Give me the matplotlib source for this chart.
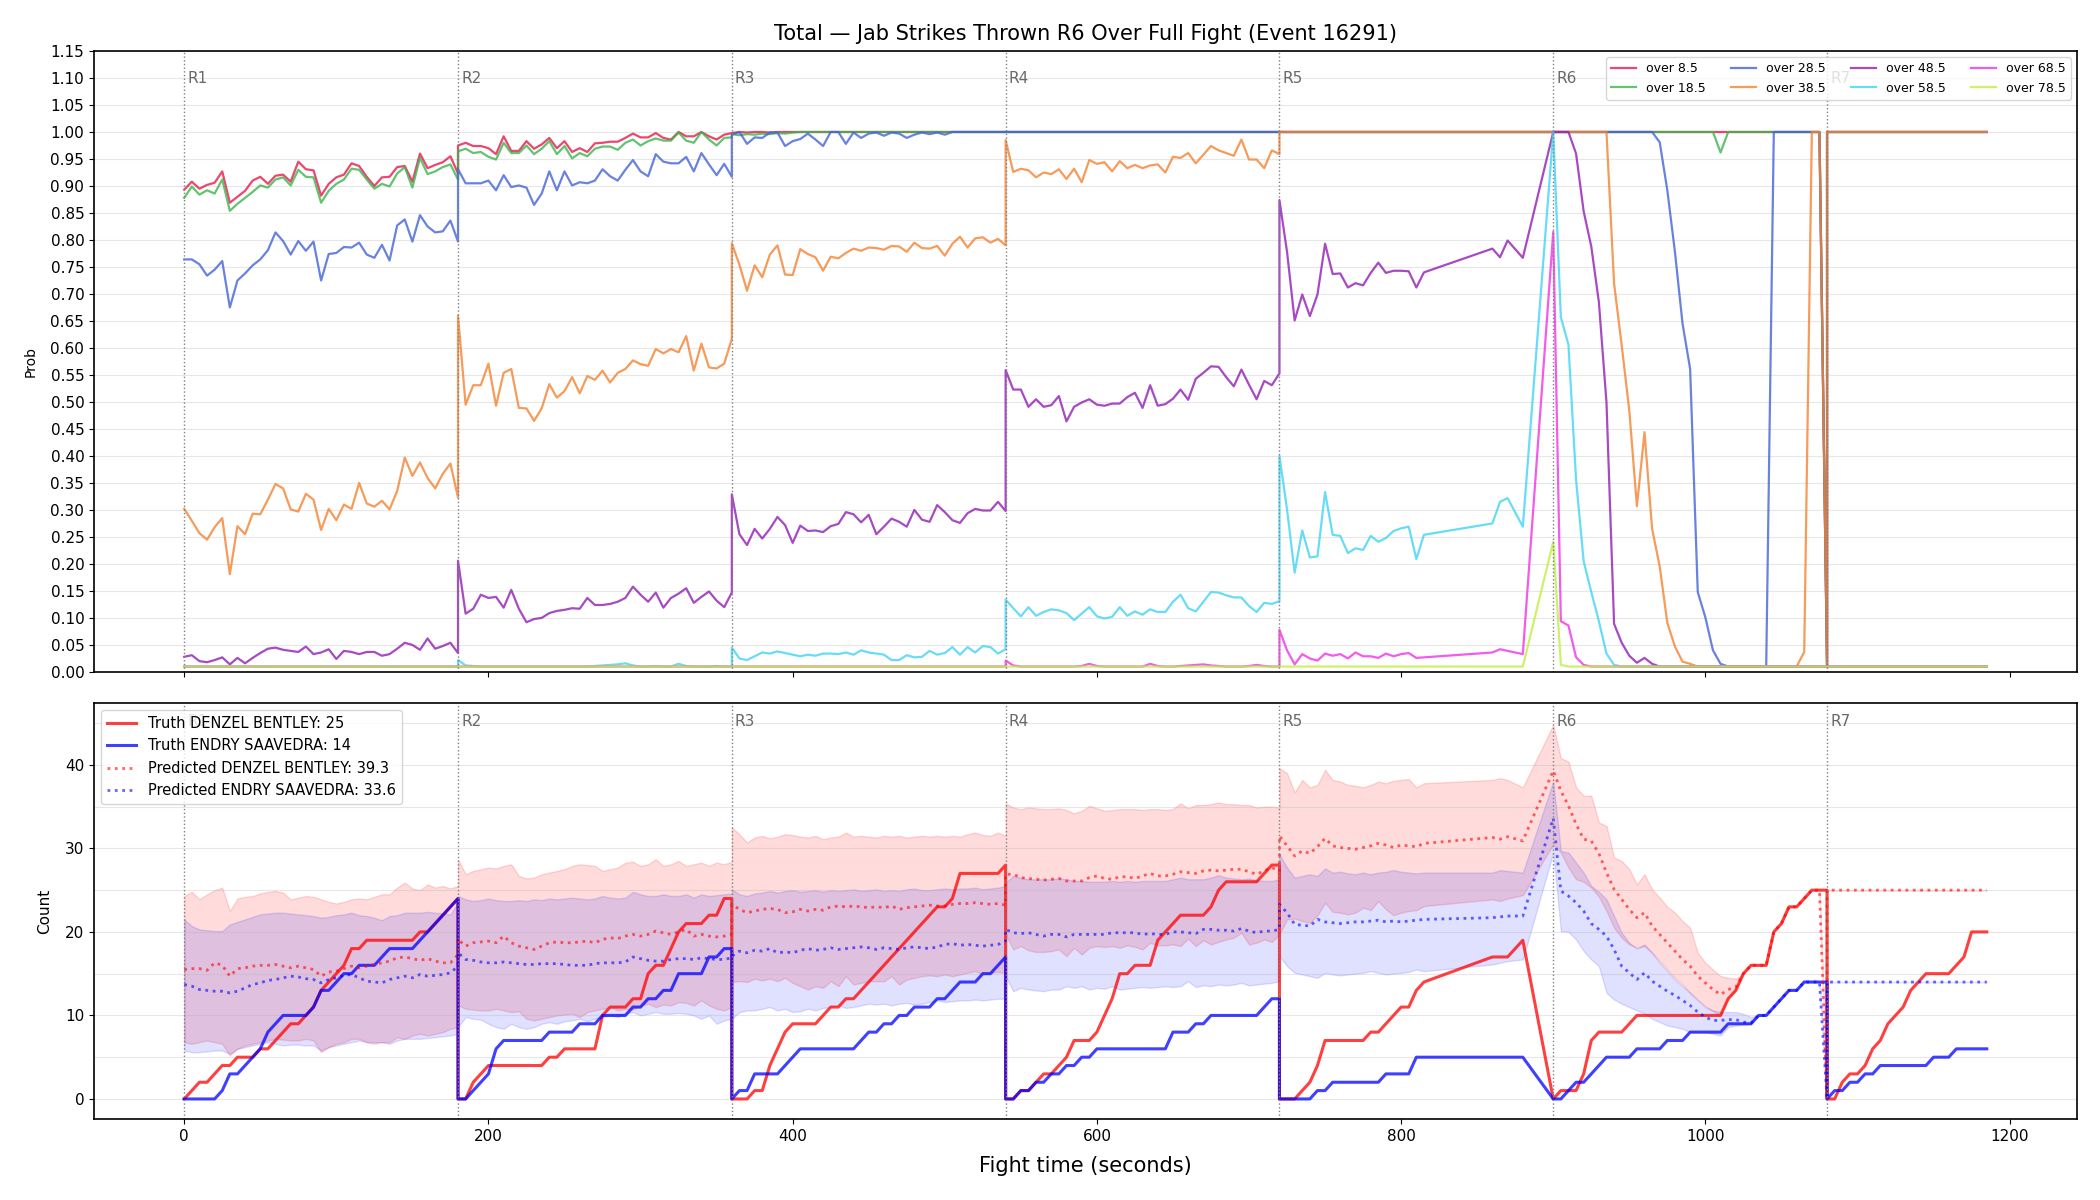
import matplotlib
matplotlib.use('Agg')
import matplotlib.pyplot as plt
from matplotlib.ticker import MultipleLocator, FormatStrFormatter

# ---- sample times (seconds), one list per round ----
t_r1 = [0, 5, 10, 15, 20, 25, 30, 35, 40, 45, 50, 55, 60, 65, 70, 75, 80, 85, 90, 95,
        100, 105, 110, 115, 120, 125, 130, 135, 140, 145, 150, 155, 160, 165, 170, 175, 180]
t_r2 = [180, 185, 190, 195, 200, 205, 210, 215, 220, 225, 230, 235, 240, 245, 250, 255, 260, 265, 270, 275,
        280, 285, 290, 295, 300, 305, 310, 315, 320, 325, 330, 335, 340, 345, 350, 355, 360]
t_r3 = [360, 365, 370, 375, 380, 385, 390, 395, 400, 405, 410, 415, 420, 425, 430, 435, 440, 445, 450, 455,
        460, 465, 470, 475, 480, 485, 490, 495, 500, 505, 510, 515, 520, 525, 530, 535, 540]
t_r4 = [540, 545, 550, 555, 560, 565, 570, 575, 580, 585, 590, 595, 600, 605, 610, 615, 620, 625, 630, 635,
        640, 645, 650, 655, 660, 665, 670, 675, 680, 685, 690, 695, 700, 705, 710, 715, 720]
t_r5 = [720, 725, 730, 735, 740, 745, 750, 755, 760, 765, 770, 775, 780, 785, 790, 795, 800, 805, 810, 815,
        860, 865, 870, 880]
t_r6 = [900, 905, 910, 915, 920, 925, 930, 935, 940, 945, 950, 955, 960, 965, 970, 975, 980, 985, 990, 995,
        1000, 1005, 1010, 1015, 1020, 1025, 1030, 1035, 1040, 1045, 1050, 1055, 1060, 1065, 1070, 1075, 1080]
t_r7 = [1080, 1085, 1090, 1095, 1100, 1105, 1110, 1115, 1120, 1125, 1130, 1135, 1140, 1145, 1150, 1155,
        1160, 1165, 1170, 1175, 1180, 1185]

round_starts = [0, 180, 360, 540, 720, 900, 1080]

# ---- top panel: probability of total over each line ----
over_8_5 = [
    [0.893, 0.908, 0.895, 0.902, 0.906, 0.927, 0.869, 0.880, 0.891, 0.910, 0.917, 0.904, 0.919, 0.921, 0.908,
     0.945, 0.931, 0.929, 0.882, 0.904, 0.916, 0.921, 0.942, 0.937, 0.917, 0.900, 0.916, 0.917, 0.935, 0.937,
     0.908, 0.960, 0.933, 0.939, 0.944, 0.955, 0.923],
    [0.975, 0.980, 0.974, 0.974, 0.970, 0.959, 0.992, 0.965, 0.965, 0.983, 0.969, 0.977, 0.989, 0.970, 0.983,
     0.963, 0.970, 0.963, 0.979, 0.980, 0.982, 0.982, 0.989, 0.997, 0.990, 0.990, 0.998, 0.989, 0.986, 1.0,
     0.992, 0.992, 1.0, 0.992, 0.986, 0.995, 0.998],
    [0.998, 1.0, 0.999, 1.0, 1.0, 0.999] + [1.0] * 31,
    [1.0] * 37,
    [1.0] * 24,
    [1.0] * 36 + [0.01],
    [1.0] * 22,
]
over_18_5 = [
    [0.878, 0.899, 0.884, 0.892, 0.886, 0.912, 0.854, 0.867, 0.878, 0.889, 0.901, 0.897, 0.912, 0.916, 0.901,
     0.930, 0.917, 0.916, 0.869, 0.891, 0.904, 0.912, 0.932, 0.930, 0.912, 0.895, 0.904, 0.899, 0.923, 0.935,
     0.897, 0.952, 0.922, 0.927, 0.935, 0.940, 0.912],
    [0.964, 0.969, 0.961, 0.963, 0.954, 0.949, 0.980, 0.961, 0.961, 0.975, 0.959, 0.969, 0.983, 0.959, 0.974,
     0.951, 0.961, 0.955, 0.969, 0.973, 0.973, 0.967, 0.980, 0.986, 0.975, 0.983, 0.988, 0.984, 0.984, 0.999,
     0.984, 0.980, 1.0, 0.986, 0.975, 0.989, 0.990],
    [0.996, 0.994, 0.996, 0.995, 0.997, 0.996, 0.998, 0.997, 0.999] + [1.0] * 28,
    [1.0] * 37,
    [1.0] * 24,
    [1.0] * 22 + [0.962] + [1.0] * 13 + [0.01],
    [1.0] * 22,
]
over_28_5 = [
    [0.764, 0.764, 0.755, 0.734, 0.745, 0.761, 0.675, 0.725, 0.738, 0.753, 0.764, 0.781, 0.814, 0.798, 0.773,
     0.798, 0.780, 0.797, 0.725, 0.774, 0.776, 0.787, 0.786, 0.795, 0.773, 0.767, 0.791, 0.762, 0.827, 0.838,
     0.797, 0.846, 0.825, 0.814, 0.816, 0.836, 0.797],
    [0.931, 0.905, 0.905, 0.905, 0.910, 0.892, 0.920, 0.898, 0.901, 0.897, 0.865, 0.886, 0.927, 0.892, 0.927,
     0.901, 0.907, 0.905, 0.910, 0.931, 0.918, 0.910, 0.930, 0.948, 0.927, 0.918, 0.959, 0.945, 0.942, 0.942,
     0.954, 0.927, 0.961, 0.940, 0.920, 0.941, 0.917],
    [0.995, 1.0, 0.978, 0.990, 0.989, 0.999, 0.999, 0.974, 0.983, 0.987, 0.997, 0.986, 0.974, 1.0, 1.0,
     0.978, 0.999, 0.989, 0.997, 0.999, 0.993, 0.999, 0.997, 0.989, 0.995, 0.999, 0.996, 0.999, 0.995, 1.0,
     1.0, 1.0, 1.0, 1.0, 1.0, 1.0, 1.0],
    [1.0] * 37,
    [1.0] * 24,
    [1.0] * 14 + [0.981, 0.892, 0.778, 0.645, 0.561, 0.148, 0.101, 0.040, 0.015,
                  0.01, 0.01, 0.01, 0.01, 0.01, 0.01] + [1.0] * 7 + [0.01],
    [1.0] * 22,
]
over_38_5 = [
    [0.302, 0.280, 0.257, 0.245, 0.268, 0.285, 0.181, 0.270, 0.255, 0.293, 0.292, 0.319, 0.348, 0.340, 0.301,
     0.297, 0.330, 0.319, 0.263, 0.302, 0.281, 0.310, 0.302, 0.350, 0.312, 0.306, 0.317, 0.301, 0.335, 0.397,
     0.363, 0.388, 0.359, 0.340, 0.367, 0.386, 0.323],
    [0.660, 0.495, 0.531, 0.531, 0.571, 0.493, 0.554, 0.561, 0.489, 0.488, 0.465, 0.488, 0.533, 0.508, 0.520,
     0.546, 0.516, 0.548, 0.541, 0.558, 0.536, 0.554, 0.561, 0.577, 0.570, 0.567, 0.598, 0.590, 0.598, 0.592,
     0.622, 0.558, 0.608, 0.564, 0.562, 0.571, 0.617],
    [0.794, 0.754, 0.706, 0.753, 0.731, 0.773, 0.790, 0.736, 0.735, 0.783, 0.774, 0.768, 0.743, 0.769, 0.766,
     0.776, 0.784, 0.780, 0.786, 0.785, 0.782, 0.789, 0.788, 0.778, 0.795, 0.785, 0.784, 0.789, 0.771, 0.793,
     0.806, 0.786, 0.803, 0.805, 0.795, 0.802, 0.790],
    [0.985, 0.926, 0.932, 0.929, 0.916, 0.925, 0.922, 0.931, 0.913, 0.932, 0.907, 0.948, 0.941, 0.944, 0.927,
     0.946, 0.933, 0.939, 0.933, 0.938, 0.940, 0.925, 0.954, 0.952, 0.961, 0.942, 0.958, 0.974, 0.966, 0.961,
     0.956, 0.986, 0.949, 0.949, 0.933, 0.966, 0.959],
    [1.0] * 24,
    [1.0] * 8 + [0.719, 0.605, 0.484, 0.307, 0.444, 0.265, 0.195, 0.091, 0.047, 0.019, 0.015]
    + [0.01] * 14 + [0.037, 1.0, 1.0, 0.01],
    [1.0] * 22,
]
over_48_5 = [
    [0.028, 0.031, 0.020, 0.018, 0.022, 0.027, 0.014, 0.026, 0.016, 0.026, 0.035, 0.043, 0.045, 0.041, 0.039,
     0.037, 0.047, 0.033, 0.036, 0.042, 0.024, 0.039, 0.037, 0.033, 0.037, 0.037, 0.030, 0.033, 0.043, 0.054,
     0.050, 0.041, 0.062, 0.043, 0.048, 0.054, 0.035],
    [0.206, 0.108, 0.117, 0.143, 0.137, 0.139, 0.119, 0.152, 0.117, 0.092, 0.098, 0.100, 0.109, 0.113, 0.115,
     0.118, 0.117, 0.137, 0.124, 0.124, 0.126, 0.130, 0.137, 0.158, 0.143, 0.130, 0.147, 0.119, 0.137, 0.145,
     0.155, 0.128, 0.139, 0.149, 0.132, 0.120, 0.147],
    [0.329, 0.255, 0.235, 0.265, 0.247, 0.265, 0.287, 0.272, 0.239, 0.271, 0.261, 0.262, 0.259, 0.270, 0.274,
     0.296, 0.292, 0.277, 0.291, 0.255, 0.269, 0.284, 0.278, 0.269, 0.300, 0.282, 0.278, 0.309, 0.296, 0.281,
     0.276, 0.294, 0.302, 0.299, 0.299, 0.315, 0.298],
    [0.559, 0.523, 0.523, 0.491, 0.505, 0.491, 0.494, 0.511, 0.464, 0.491, 0.499, 0.505, 0.495, 0.493, 0.497,
     0.497, 0.509, 0.517, 0.489, 0.531, 0.493, 0.496, 0.506, 0.523, 0.504, 0.543, 0.554, 0.566, 0.565, 0.546,
     0.529, 0.560, 0.532, 0.505, 0.539, 0.531, 0.553],
    [0.874, 0.778, 0.651, 0.699, 0.659, 0.699, 0.793, 0.737, 0.738, 0.712, 0.720, 0.716, 0.739, 0.758, 0.739,
     0.743, 0.743, 0.742, 0.712, 0.740, 0.784, 0.768, 0.799, 0.767],
    [1.0, 1.0, 1.0, 0.960, 0.853, 0.788, 0.685, 0.499, 0.089, 0.054, 0.030, 0.017, 0.026, 0.015] + [0.01] * 23,
    [0.01] * 22,
]
over_58_5 = [
    [0.01] * 37,
    [0.022, 0.012, 0.011, 0.01, 0.01, 0.01, 0.01, 0.01, 0.01, 0.01, 0.01, 0.01, 0.01, 0.01, 0.01, 0.01, 0.01,
     0.01, 0.011, 0.012, 0.013, 0.014, 0.016, 0.012, 0.01, 0.01, 0.011, 0.01, 0.01, 0.015, 0.011, 0.01, 0.01,
     0.01, 0.011, 0.01, 0.01],
    [0.045, 0.025, 0.022, 0.029, 0.036, 0.034, 0.038, 0.035, 0.032, 0.029, 0.032, 0.030, 0.034, 0.034, 0.033,
     0.036, 0.032, 0.040, 0.036, 0.034, 0.032, 0.022, 0.022, 0.031, 0.027, 0.028, 0.039, 0.032, 0.035, 0.046,
     0.032, 0.046, 0.036, 0.048, 0.046, 0.034, 0.042],
    [0.134, 0.118, 0.103, 0.120, 0.104, 0.111, 0.116, 0.114, 0.109, 0.096, 0.108, 0.120, 0.103, 0.099, 0.102,
     0.120, 0.104, 0.112, 0.106, 0.116, 0.111, 0.111, 0.130, 0.143, 0.118, 0.112, 0.130, 0.148, 0.147, 0.142,
     0.138, 0.138, 0.122, 0.111, 0.128, 0.126, 0.131],
    [0.400, 0.301, 0.184, 0.262, 0.212, 0.214, 0.333, 0.254, 0.252, 0.220, 0.229, 0.226, 0.252, 0.241, 0.248,
     0.261, 0.266, 0.269, 0.209, 0.254, 0.275, 0.315, 0.322, 0.269],
    [1.0, 0.657, 0.606, 0.356, 0.205, 0.148, 0.094, 0.034, 0.013] + [0.01] * 28,
    [0.01] * 22,
]
over_68_5 = [
    [0.01] * 37,
    [0.01] * 37,
    [0.01] * 37,
    [0.021, 0.012, 0.01, 0.01, 0.01, 0.01, 0.01, 0.01, 0.01, 0.01, 0.011, 0.015, 0.011, 0.01, 0.01, 0.01, 0.01,
     0.01, 0.01, 0.015, 0.011, 0.01, 0.01, 0.011, 0.012, 0.013, 0.014, 0.012, 0.011, 0.01, 0.01, 0.01, 0.011,
     0.013, 0.011, 0.01, 0.01],
    [0.078, 0.040, 0.014, 0.033, 0.025, 0.021, 0.034, 0.030, 0.033, 0.025, 0.036, 0.029, 0.029, 0.026, 0.034,
     0.029, 0.033, 0.035, 0.026, 0.027, 0.036, 0.042, 0.039, 0.033],
    [0.815, 0.094, 0.086, 0.027, 0.013] + [0.01] * 32,
    [0.01] * 22,
]
over_78_5 = [
    [0.01] * 37,
    [0.01] * 37,
    [0.01] * 37,
    [0.01] * 37,
    [0.01] * 24,
    [0.241, 0.013] + [0.01] * 35,
    [0.01] * 22,
]

line_labels = ['over 8.5', 'over 18.5', 'over 28.5', 'over 38.5',
               'over 48.5', 'over 58.5', 'over 68.5', 'over 78.5']
line_colors = ['#e6194b', '#3cb44b', '#4363d8', '#f58231',
               '#911eb4', '#42d4f4', '#f032e6', '#bfef45']

# ---- bottom panel: counts ----
truth_bentley = [
    [0, 1, 2, 2, 3, 4, 4, 5, 5, 5, 6, 6, 7, 8, 9, 9, 10, 11, 13, 14, 15, 16, 18, 18, 19, 19, 19, 19, 19, 19,
     19, 20, 20, 21, 22, 23, 24],
    [0, 0, 2, 3, 4, 4, 4, 4, 4, 4, 4, 4, 5, 5, 6, 6, 6, 6, 6, 10, 11, 11, 11, 12, 12, 15, 16, 16, 18, 20,
     21, 21, 21, 22, 22, 24, 24],
    [0, 0, 0, 1, 1, 4, 6, 8, 9, 9, 9, 9, 10, 11, 11, 12, 12, 13, 14, 15, 16, 17, 18, 19, 20, 21, 22, 23, 23, 24,
     27, 27, 27, 27, 27, 27, 28],
    [0, 0, 1, 1, 2, 3, 3, 4, 5, 7, 7, 7, 8, 10, 12, 15, 15, 16, 16, 16, 19, 20, 21, 22, 22, 22, 22, 23, 25, 26,
     26, 26, 26, 26, 27, 28, 28],
    [0, 0, 0, 1, 2, 4, 7, 7, 7, 7, 7, 7, 8, 8, 9, 10, 11, 11, 13, 14, 17, 17, 17, 19],
    [0, 1, 1, 1, 3, 7, 8, 8, 8, 8, 9, 10, 10, 10, 10, 10, 10, 10, 10, 10, 10, 10, 10, 12, 13, 15, 16, 16, 16, 20,
     21, 23, 23, 24, 25, 25, 25],
    [0, 0, 2, 3, 3, 4, 6, 7, 9, 10, 11, 13, 14, 15, 15, 15, 15, 16, 17, 20, 20, 20],
]
truth_saavedra = [
    [0, 0, 0, 0, 0, 1, 3, 3, 4, 5, 6, 8, 9, 10, 10, 10, 10, 11, 13, 13, 14, 15, 15, 16, 16, 16, 17, 18, 18, 18,
     18, 19, 20, 21, 22, 23, 24],
    [0, 0, 1, 2, 3, 6, 7, 7, 7, 7, 7, 7, 8, 8, 8, 8, 9, 9, 9, 10, 10, 10, 10, 11, 11, 12, 12, 13, 13, 15,
     15, 15, 15, 17, 17, 18, 18],
    [0, 1, 1, 3, 3, 3, 3, 4, 5, 6, 6, 6, 6, 6, 6, 6, 6, 7, 8, 8, 9, 9, 10, 10, 11, 11, 11, 12, 12, 13,
     14, 14, 14, 15, 15, 16, 17],
    [0, 0, 1, 1, 2, 2, 3, 3, 4, 4, 5, 5, 6, 6, 6, 6, 6, 6, 6, 6, 6, 6, 8, 8, 8, 9, 9, 10, 10, 10,
     10, 10, 10, 10, 11, 12, 12],
    [0, 0, 0, 0, 0, 1, 1, 2, 2, 2, 2, 2, 2, 2, 3, 3, 3, 3, 5, 5, 5, 5, 5, 5],
    [0, 0, 1, 2, 2, 3, 4, 5, 5, 5, 5, 6, 6, 6, 6, 7, 7, 7, 8, 8, 8, 8, 8, 9, 9, 9, 9, 10, 10, 11,
     12, 13, 13, 14, 14, 14, 14],
    [0, 1, 1, 2, 2, 3, 3, 4, 4, 4, 4, 4, 4, 4, 5, 5, 5, 6, 6, 6, 6, 6],
]
pred_bentley = [
    [15.5, 15.6, 15.6, 15.4, 16.3, 16.0, 14.7, 15.6, 15.7, 15.9, 16.0, 16.0, 16.1, 15.9, 15.7, 15.9, 15.7, 15.5,
     14.7, 15.2, 15.3, 15.6, 15.9, 15.7, 15.9, 16.1, 16.3, 16.5, 16.9, 17.0, 16.8, 16.6, 16.8, 16.5, 16.3, 16.3,
     17.3],
    [19.1, 18.3, 18.7, 18.8, 18.9, 18.7, 19.5, 18.7, 18.3, 18.1, 17.9, 18.3, 18.7, 18.8, 18.7, 18.7, 18.8, 18.9,
     18.7, 19.1, 19.3, 19.2, 19.5, 19.7, 19.5, 19.7, 20.1, 19.9, 19.7, 20.0, 20.3, 19.5, 19.7, 19.5, 19.4, 19.5,
     19.7],
    [23.3, 22.7, 22.3, 22.5, 22.7, 22.8, 22.7, 22.3, 22.4, 22.7, 22.5, 22.7, 22.6, 23.0, 23.1, 23.0, 23.1, 23.0,
     22.9, 23.0, 22.9, 23.1, 22.7, 22.9, 23.0, 23.1, 23.2, 23.1, 23.1, 23.3, 23.4, 23.4, 23.5, 23.4, 23.3, 23.4,
     23.2],
    [26.9, 26.9, 26.5, 26.4, 26.3, 26.2, 26.3, 26.4, 26.1, 26.1, 26.1, 26.5, 26.7, 26.4, 26.3, 26.6, 26.6, 26.4,
     26.7, 27.0, 26.7, 26.7, 26.9, 27.2, 27.1, 27.0, 27.3, 27.4, 27.3, 27.4, 27.5, 27.5, 27.2, 26.9, 27.3, 27.7,
     27.3],
    [31.5, 30.3, 29.1, 29.7, 29.4, 30.2, 31.2, 30.3, 30.1, 30.0, 29.9, 30.1, 30.3, 30.6, 30.4, 30.1, 30.4, 30.3,
     30.2, 30.6, 31.3, 31.1, 31.4, 30.9],
    [39.3, 36.9, 35.1, 32.9, 31.1, 30.9, 29.4, 27.1, 25.1, 23.9, 22.7, 21.7, 22.3, 20.7, 19.7, 18.7, 17.7, 16.7,
     15.9, 14.7, 13.9, 13.1, 12.5, 13.1, 13.4, 15.0, 16.0, 16.0, 16.0, 20.0, 21.0, 23.0, 23.0, 24.0, 25.0, 25.0,
     0.0],
    [25.0] * 22,
]
pred_saavedra = [
    [13.7, 13.5, 13.1, 13.0, 12.9, 12.9, 12.7, 12.9, 13.3, 13.7, 13.9, 14.2, 14.3, 14.5, 14.7, 14.6, 14.4, 14.3,
     13.9, 14.3, 14.5, 14.8, 14.9, 14.5, 14.1, 14.0, 13.9, 14.3, 14.5, 14.7, 14.5, 14.9, 14.7, 14.8, 14.9, 15.1,
     15.9],
    [17.5, 16.7, 16.6, 16.4, 16.3, 16.3, 16.4, 16.3, 16.2, 16.1, 16.1, 16.2, 16.2, 16.2, 16.1, 16.0, 16.0, 16.0,
     16.2, 16.3, 16.3, 16.3, 16.4, 17.0, 16.8, 16.6, 16.5, 16.5, 16.7, 16.8, 16.8, 16.7, 16.9, 16.8, 16.7, 16.7,
     16.9],
    [17.1, 17.7, 17.5, 17.8, 17.7, 18.0, 17.5, 17.6, 17.5, 17.8, 18.0, 17.8, 17.9, 18.1, 17.9, 18.0, 18.1, 18.2,
     18.1, 17.9, 18.1, 18.0, 17.9, 18.1, 18.2, 18.1, 18.0, 18.2, 18.5, 18.6, 18.4, 18.5, 18.4, 18.3, 18.4, 18.5,
     18.9],
    [20.3, 19.9, 19.8, 19.9, 19.7, 19.5, 19.7, 19.7, 19.4, 19.7, 19.7, 19.7, 19.7, 19.7, 19.9, 19.9, 19.9, 19.9,
     19.7, 19.8, 19.7, 19.7, 20.0, 20.0, 19.9, 19.8, 20.3, 20.3, 20.2, 20.2, 20.1, 20.4, 20.1, 19.9, 20.1, 20.1,
     20.3],
    [23.3, 22.3, 20.9, 20.8, 20.7, 21.5, 21.2, 21.1, 21.0, 21.1, 21.2, 21.2, 21.3, 21.4, 21.2, 21.3, 21.2, 21.3,
     21.4, 21.5, 21.7, 21.8, 21.9, 21.9],
    [33.6, 24.9, 24.3, 23.5, 22.5, 21.0, 20.3, 19.5, 17.9, 15.9, 15.1, 14.3, 15.1, 14.1, 13.5, 12.9, 12.4, 11.8,
     11.2, 10.4, 9.8, 9.4, 9.4, 9.5, 9.5, 9.2, 9.1, 10.0, 10.0, 11.0, 12.0, 13.0, 13.0, 14.0, 14.0, 14.0, 0.0],
    [14.0] * 22,
]
bentley_hi = [
    [24.3, 24.8, 23.9, 24.5, 25.0, 25.3, 22.5, 24.0, 24.2, 24.3, 24.6, 24.8, 24.9, 24.7, 23.9, 24.1, 24.3, 24.2,
     23.9, 23.6, 23.4, 23.6, 23.9, 24.0, 23.9, 24.2, 24.5, 24.5, 25.3, 25.9, 25.2, 25.0, 25.7, 25.3, 25.5, 25.2,
     25.5],
    [28.7, 26.9, 27.3, 27.5, 27.7, 27.6, 27.9, 28.1, 26.7, 26.4, 26.5, 26.9, 27.1, 27.3, 27.5, 27.9, 28.1, 28.0,
     27.9, 27.3, 27.5, 27.7, 28.3, 28.4, 27.9, 28.1, 28.7, 27.9, 28.1, 28.5, 27.9, 28.1, 28.3, 27.9, 28.3, 28.1,
     28.4],
    [32.5, 31.7, 30.7, 31.3, 31.5, 31.2, 31.4, 31.7, 31.6, 31.4, 31.3, 31.5, 31.1, 31.3, 31.4, 31.9, 31.4, 31.5,
     31.4, 31.3, 31.5, 31.4, 31.5, 31.3, 31.4, 31.5, 31.4, 31.5, 31.4, 31.5, 31.4, 31.7, 31.9, 31.6, 31.5, 31.9,
     31.5],
    [35.4, 34.9, 34.7, 34.9, 34.8, 34.7, 34.7, 34.8, 34.6, 34.2, 34.5, 35.1, 34.8, 34.5, 34.6, 34.7, 34.7, 34.7,
     34.6, 34.7, 34.7, 34.6, 34.7, 35.4, 34.8, 35.2, 35.2, 35.3, 35.5, 35.3, 35.3, 35.2, 35.2, 34.9, 35.0, 35.0,
     34.9],
    [39.6, 39.0, 36.7, 38.2, 37.3, 37.6, 39.4, 38.2, 38.0, 37.6, 37.5, 37.3, 37.6, 38.0, 37.8, 38.1, 38.2, 38.3,
     37.3, 37.8, 38.2, 38.4, 38.2, 37.3],
    [44.8, 40.8, 40.4, 37.3, 36.3, 36.3, 33.1, 32.7, 28.9, 28.5, 27.5, 25.7, 26.9, 25.1, 24.1, 23.0, 22.3, 21.3,
     20.5, 17.5, 16.3, 15.5, 14.7, 14.5, 14.4, 15.0, 16.0, 16.0, 16.0, 20.0, 21.0, 23.0, 23.0, 24.0, 25.0, 25.0,
     0.0],
    [25.0] * 22,
]
bentley_lo = [
    [6.8, 6.6, 6.8, 7.0, 6.8, 6.6, 5.2, 6.0, 6.4, 6.6, 6.8, 7.0, 7.2, 7.1, 7.0, 7.0, 7.2, 7.0, 5.6, 6.2, 6.6,
     6.8, 7.2, 7.2, 6.8, 6.6, 6.8, 6.8, 7.4, 7.2, 7.6, 7.8, 7.6, 7.8, 8.0, 8.4, 8.6],
    [11.2, 10.8, 10.7, 10.6, 10.6, 10.8, 10.6, 10.4, 10.5, 9.6, 9.4, 9.6, 9.8, 10.0, 10.1, 10.2, 9.8, 10.4, 10.6,
     10.8, 11.0, 10.6, 10.8, 10.7, 11.2, 11.4, 11.0, 11.3, 11.2, 11.6, 11.5, 11.2, 11.8, 11.2, 10.8, 10.6, 11.0],
    [14.0, 14.1, 14.0, 14.4, 14.2, 14.4, 14.1, 14.5, 13.9, 13.5, 13.1, 13.5, 13.3, 14.1, 13.5, 14.7, 13.7, 13.9,
     14.1, 14.1, 14.1, 14.7, 13.7, 14.3, 14.5, 14.7, 14.8, 14.7, 14.9, 14.7, 14.9, 15.1, 15.3, 14.9, 15.1, 15.2,
     15.1],
    [19.7, 17.9, 18.3, 17.8, 17.6, 17.6, 17.7, 17.9, 17.1, 18.1, 17.3, 18.1, 18.3, 18.2, 18.3, 18.1, 18.4, 18.2,
     17.9, 18.7, 18.4, 18.4, 18.5, 18.3, 19.2, 18.3, 19.0, 18.5, 18.8, 19.1, 19.3, 19.9, 18.5, 18.7, 19.1, 18.8,
     19.7],
    [19.7, 21.5, 21.6, 21.3, 21.1, 22.0, 23.5, 22.4, 22.3, 22.1, 22.3, 22.9, 22.6, 23.7, 22.7, 22.0, 22.3, 22.5,
     22.6, 23.1, 23.9, 23.7, 24.0, 24.4],
    [30.5, 29.5, 27.7, 26.3, 26.0, 25.3, 24.2, 22.5, 20.5, 19.3, 18.5, 18.1, 18.3, 17.5, 16.5, 15.5, 14.5, 13.7,
     12.7, 11.9, 11.1, 10.5, 10.0, 12.0, 13.0, 15.0, 16.0, 16.0, 16.0, 20.0, 21.0, 23.0, 23.0, 24.0, 25.0, 25.0,
     0.0],
    [25.0] * 22,
]
saavedra_hi = [
    [21.5, 20.7, 20.3, 20.2, 20.1, 20.1, 20.9, 21.2, 21.5, 21.8, 22.1, 22.2, 22.3, 22.3, 22.2, 22.1, 22.0, 21.9,
     21.7, 21.8, 22.0, 22.1, 22.3, 22.0, 21.9, 21.7, 21.4, 21.9, 22.0, 22.3, 22.3, 22.3, 22.4, 22.3, 22.2, 22.1,
     23.5],
    [24.3, 23.9, 23.7, 23.8, 24.0, 23.8, 23.7, 23.7, 23.8, 23.7, 23.9, 23.8, 24.0, 23.9, 24.0, 24.1, 24.0, 23.9,
     24.0, 24.3, 24.1, 24.0, 24.1, 24.8, 24.5, 24.3, 24.3, 24.5, 24.3, 24.3, 24.5, 24.1, 24.5, 24.3, 24.4, 24.5,
     24.6],
    [25.1, 24.5, 24.3, 24.6, 24.7, 24.9, 24.7, 24.9, 25.0, 24.8, 24.9, 25.0, 24.8, 25.0, 24.9, 25.0, 25.1, 24.9,
     25.0, 25.1, 24.9, 25.0, 24.9, 25.1, 25.2, 25.0, 25.0, 25.1, 25.2, 25.1, 25.2, 25.2, 25.3, 25.1, 25.2, 25.3,
     25.5],
    [25.9, 26.7, 26.5, 26.3, 26.3, 26.3, 26.3, 26.4, 26.3, 26.1, 26.1, 26.0, 26.0, 26.0, 26.1, 26.0, 26.1, 26.0,
     26.1, 26.1, 26.1, 26.1, 26.3, 26.5, 26.3, 26.3, 26.3, 26.5, 26.8, 26.5, 26.4, 26.3, 26.4, 26.2, 26.1, 26.1,
     26.3],
    [29.3, 27.7, 26.5, 26.7, 26.9, 26.7, 27.6, 27.1, 27.2, 27.0, 26.9, 27.1, 26.9, 27.1, 27.2, 27.4, 27.2, 27.1,
     27.0, 27.1, 27.1, 27.4, 27.3, 27.1],
    [38.0, 29.7, 29.5, 28.3, 27.1, 25.5, 24.8, 23.9, 21.9, 19.9, 18.7, 18.0, 18.5, 17.5, 16.3, 15.3, 14.3, 13.5,
     12.7, 11.8, 11.0, 10.6, 10.4, 10.4, 10.4, 10.2, 9.8, 10.0, 10.0, 11.0, 12.0, 13.0, 13.0, 14.0, 14.0, 14.0,
     0.0],
    [14.0] * 22,
]
saavedra_lo = [
    [5.8, 5.6, 5.6, 5.7, 5.8, 5.8, 5.4, 6.0, 6.2, 6.4, 6.6, 6.8, 6.6, 6.4, 6.5, 6.5, 6.4, 6.4, 5.8, 6.2, 6.4,
     6.6, 6.8, 7.0, 6.8, 6.8, 6.8, 6.6, 7.0, 7.2, 7.2, 7.2, 7.3, 7.4, 7.5, 7.6, 7.8],
    [8.6, 9.8, 9.6, 9.5, 9.0, 8.6, 8.4, 9.0, 8.6, 8.4, 8.6, 9.0, 9.2, 9.0, 9.3, 9.4, 9.6, 9.3, 9.6, 9.8, 10.0,
     9.8, 10.2, 10.4, 10.0, 10.2, 10.4, 10.2, 10.2, 10.3, 10.2, 10.0, 9.6, 10.0, 9.0, 9.4, 9.6],
    [9.6, 10.4, 10.6, 10.6, 10.8, 11.0, 10.6, 10.8, 10.4, 10.5, 10.8, 10.6, 10.9, 11.0, 11.2, 10.9, 11.0, 11.2,
     11.4, 11.3, 11.4, 11.2, 11.4, 11.5, 11.3, 11.4, 11.6, 11.8, 11.6, 11.7, 11.8, 11.8, 11.9, 11.8, 11.9, 12.0,
     12.0],
    [14.7, 12.9, 13.3, 13.1, 13.0, 12.9, 13.1, 13.1, 13.5, 13.3, 13.5, 13.1, 13.3, 13.2, 13.5, 13.1, 13.2, 13.3,
     13.4, 13.3, 13.4, 13.5, 13.4, 13.5, 14.1, 13.4, 13.6, 13.5, 13.7, 13.6, 13.7, 13.9, 13.6, 13.7, 13.8, 13.9,
     14.1],
    [17.1, 15.9, 15.1, 14.9, 14.7, 14.5, 15.1, 14.9, 14.8, 14.9, 15.0, 15.1, 15.3, 15.1, 14.9, 15.0, 15.1, 15.2,
     15.5, 15.3, 16.1, 16.3, 16.5, 16.7],
    [29.5, 20.1, 20.0, 19.1, 17.7, 16.7, 15.9, 12.7, 11.9, 11.4, 11.0, 10.6, 10.2, 9.6, 9.2, 8.8, 8.6, 8.4,
     8.0, 8.0, 8.0, 7.8, 7.6, 8.6, 8.8, 8.9, 9.0, 10.0, 10.0, 11.0, 12.0, 13.0, 13.0, 14.0, 14.0, 14.0, 0.0],
    [14.0] * 22,
]


def join(parts):
    out = []
    for p in parts:
        out += p
    return out


t = join([t_r1, t_r2, t_r3, t_r4, t_r5, t_r6, t_r7])

fig, (ax1, ax2) = plt.subplots(2, 1, figsize=(21, 12), sharex=True,
                               gridspec_kw={'height_ratios': [621, 416]})
fig.subplots_adjust(left=0.0448, right=0.989, top=0.9575, bottom=0.0675, hspace=0.06)

# top panel
top_series = [over_8_5, over_18_5, over_28_5, over_38_5, over_48_5, over_58_5, over_68_5, over_78_5]
for series, lab, col in zip(top_series, line_labels, line_colors):
    ax1.plot(t, join(series), color=col, lw=1.6, alpha=0.8, label=lab)

ax1.set_ylim(0, 1.15)
ax1.yaxis.set_major_locator(MultipleLocator(0.05))
ax1.yaxis.set_major_formatter(FormatStrFormatter('%.2f'))
ax1.set_ylabel('Prob', fontsize=10, labelpad=9)
ax1.grid(axis='y', alpha=0.3)
ax1.set_title('Total \u2014 Jab Strikes Thrown R6 Over Full Fight (Event 16291)', fontsize=15, pad=8)

# bottom panel
ax2.fill_between(t, join(bentley_lo), join(bentley_hi), color='red', alpha=0.14)
ax2.fill_between(t, join(saavedra_lo), join(saavedra_hi), color='blue', alpha=0.12)
ax2.plot(t, join(truth_bentley), color='red', lw=2.2, alpha=0.75, label='Truth DENZEL BENTLEY: 25')
ax2.plot(t, join(truth_saavedra), color='blue', lw=2.2, alpha=0.75, label='Truth ENDRY SAAVEDRA: 14')
ax2.plot(t, join(pred_bentley), color='red', lw=2, ls=':', alpha=0.6, label='Predicted DENZEL BENTLEY: 39.3')
ax2.plot(t, join(pred_saavedra), color='blue', lw=2, ls=':', alpha=0.6, label='Predicted ENDRY SAAVEDRA: 33.6')

ax2.set_ylim(-2.4, 47.4)
ax2.yaxis.set_major_locator(MultipleLocator(10))
ax2.yaxis.set_minor_locator(MultipleLocator(5))
ax2.tick_params(axis='y', which='minor', length=0)
ax2.grid(axis='y', which='both', alpha=0.3)
ax2.set_ylabel('Count', fontsize=11, labelpad=9)
ax2.set_xlabel('Fight time (seconds)', fontsize=15, labelpad=9)
ax2.set_xlim(-59.25, 1244.25)

for ax in (ax1, ax2):
    for i, r in enumerate(round_starts):
        ax.axvline(r, color='gray', ls=':', lw=1)
        ax.text(r + 2, 0.955, f'R{i + 1}', transform=ax.get_xaxis_transform(),
                color='dimgray', fontsize=11, va='center', ha='left')
    ax.tick_params(labelsize=11)
    for s in ax.spines.values():
        s.set_linewidth(1.2)

ax1.legend(loc='upper right', ncol=4, fontsize=9)
ax2.legend(loc='upper left', fontsize=10.5)

fig.savefig('out.png', dpi=100)
